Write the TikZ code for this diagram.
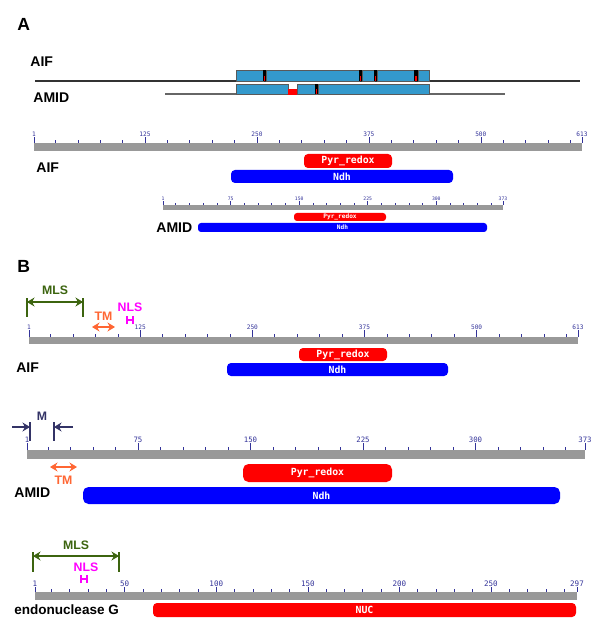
\documentclass[tikz,border=0pt]{standalone}
\usepackage{fontspec}
\setmainfont{Liberation Sans}
\setmonofont{DejaVu Sans Mono}
\usepackage{tikz}
\usetikzlibrary{arrows.meta}

\definecolor{alignblue}{RGB}{51,153,204}
\definecolor{domred}{RGB}{255,0,0}
\definecolor{domblue}{RGB}{0,0,255}
\definecolor{rulergray}{RGB}{153,153,153}
\definecolor{ticknavy}{RGB}{51,51,153}
\definecolor{mlsgreen}{RGB}{60,100,15}
\definecolor{tmorange}{RGB}{255,102,51}
\definecolor{nlsmagenta}{RGB}{255,0,255}
\definecolor{mnavy}{RGB}{51,51,102}

% #1 x0, #2 x1, #3 bar top, #4 bar bottom, #5 length, #6 minor ticks, #7 labelled ticks, #8/#9 tick lengths
\newcommand{\seqruler}[9]{%
  \fill[rulergray] (#1,#3) rectangle (#2,#4);
  \foreach \v in {#6} {
    \pgfmathsetmacro{\tickx}{#1+(\v-1)/(#5-1)*(#2-#1)}
    \draw[rulertick] (\tickx,#3) -- (\tickx,#3-#8);
  }
  \foreach \v in {1,#7,#5} {
    \pgfmathsetmacro{\tickx}{#1+(\v-1)/(#5-1)*(#2-#1)}
    \draw[rulertick] (\tickx,#3) -- (\tickx,#3-#9);
    \node[rulerno] at (\tickx,#3-#9) {\v};
  }
}

\begin{document}
\begin{tikzpicture}[
    x=0.02cm, y=-0.02cm,
    panel/.style={font=\fontsize{10}{12}\selectfont\bfseries, anchor=west, inner sep=0pt},
    protname/.style={font=\fontsize{8}{10}\selectfont\bfseries, anchor=west, inner sep=0pt},
    seg/.style={fill=alignblue, draw=black!65, line width=0.3pt},
    track/.style={line width=0.8pt, black!80},
    dom/.style={rounded corners=0.8mm, inner sep=0pt, text=white, font=\ttfamily\bfseries\fontsize{5.6}{6}\selectfont},
    dombox/.style 2 args={minimum width=#1*0.02cm, minimum height=#2*0.02cm},
    pyr/.style={dom, fill=domred},
    ndh/.style={dom, fill=domblue},
    smalldom/.style={rounded corners=0.6mm, font=\ttfamily\bfseries\fontsize{3.5}{4}\selectfont},
    rulertick/.style={ticknavy, line width=0.35pt},
    rulerno/.style={text=ticknavy, font=\ttfamily\fontsize{3.5}{4}\selectfont, anchor=south, inner sep=0.3pt},
    spanarrow/.style={line width=1pt, {Stealth[length=1.5mm,width=1.8mm]}-{Stealth[length=1.5mm,width=1.8mm]}},
    endbar/.style={line width=1pt},
    annot/.style={font=\fontsize{7}{8}\selectfont\bfseries, inner sep=0pt}
]
\useasboundingbox (0,0) rectangle (600,634);

% Panel A: alignment
\node[panel] (labA) at (17,24) {A};
\node[protname] (aifA) at (30,62) {AIF};
\node[protname] (amidA) at (33,98) {AMID};
\draw[track] (35,81) -- (580,81);
\draw[track, black!60, line width=1.1pt] (165,94) -- (505,94);
\foreach \a/\b in {236/263,266/359,362/374,377/414,418/429}
  \filldraw[seg] (\a,70) rectangle (\b,81);
\foreach \a/\b in {263/266,359/362,374/377,414/418} {
  \fill[black] (\a,70) rectangle (\b,81);
  \fill[domred] (\a+0.6,76) rectangle (\b-0.6,81);
}
\foreach \a/\b in {236/288,297/315,318/429}
  \filldraw[seg] (\a,84) rectangle (\b,94);
\fill[black] (315,84) rectangle (318,94);
\fill[domred] (315.6,89) rectangle (317.4,94);
\fill[domred] (288,89) rectangle (297,95);

% Panel A: domains
\seqruler{34}{582}{143}{151}{613}{25,50,...,600}{125,250,375,500}{3}{6}
\node[pyr, dombox={88}{14}] (pyrAifA) at (348,161) {Pyr\_redox};
\node[ndh, dombox={222}{13}] (ndhAifA) at (342,176.5) {Ndh};
\node[protname] (aifA2) at (36,168) {AIF};

\begin{scope}[rulerno/.append style={font=\ttfamily\fontsize{2.7}{3}\selectfont}]
\seqruler{163}{503}{205}{210}{373}{15,30,...,360}{75,150,225,300}{2}{4}
\end{scope}
\node[pyr, smalldom, dombox={92}{8}] (pyrAmidA) at (340,217) {Pyr\_redox};
\node[ndh, smalldom, dombox={289}{9}] (ndhAmidA) at (342.5,227.5) {Ndh};
\node[protname] (amidA2) at (156,228) {AMID};

% Panel B: AIF
\node[panel] (labB) at (17,266) {B};
\seqruler{29}{578}{337}{344}{613}{25,50,...,600}{125,250,375,500}{3}{7}
\coordinate (mlsAa) at (27,302);
\coordinate (mlsAb) at (83,302);
\draw[endbar, mlsgreen] (mlsAa) ++(0,-4) -- ++(0,19);
\draw[endbar, mlsgreen] (mlsAb) ++(0,-4) -- ++(0,19);
\draw[spanarrow, mlsgreen] (mlsAa) -- node[annot, above=3.5pt, text=mlsgreen] (mlsA) {MLS} (mlsAb);
\coordinate (tmAa) at (92,327);
\coordinate (tmAb) at (115,327);
\draw[spanarrow, tmorange] (tmAa) -- node[annot, above=3.4pt, text=tmorange] (tmA) {TM} (tmAb);
\coordinate (nlsAa) at (126,320);
\coordinate (nlsAb) at (134,320);
\draw[endbar, nlsmagenta, {Bar[width=1.7mm]}-{Bar[width=1.7mm]}] (nlsAa) -- node[annot, above=4pt, text=nlsmagenta] (nlsA) {NLS} (nlsAb);
\node[pyr, dombox={88}{13}] (pyrAifB) at (343,354.5) {Pyr\_redox};
\node[ndh, dombox={221}{13}] (ndhAifB) at (337.5,369.5) {Ndh};
\node[protname] (aifB) at (16,368) {AIF};

% Panel B: AMID
\begin{scope}[rulerno/.append style={font=\ttfamily\fontsize{4.2}{5}\selectfont}]
\seqruler{27}{585}{450}{459}{373}{15,30,...,360}{75,150,225,300}{3.5}{7}
\end{scope}
\coordinate (mAo) at (12,427);
\coordinate (mAa) at (30,427);
\coordinate (mAb) at (54,427);
\coordinate (mAp) at (73,427);
\draw[endbar, mnavy] (mAa) ++(0,-5) -- ++(0,19);
\draw[endbar, mnavy] (mAb) ++(0,-5) -- ++(0,19);
\draw[endbar, mnavy, -{Stealth[length=1.5mm,width=1.8mm]}] (mAo) -- (mAa);
\draw[endbar, mnavy, -{Stealth[length=1.5mm,width=1.8mm]}] (mAp) -- (mAb);
\path (mAa) -- node[annot, above=3.4pt, text=mnavy] (mA) {M} (mAb);
\coordinate (tmBa) at (50,467);
\coordinate (tmBb) at (77,467);
\draw[spanarrow, tmorange] (tmBa) -- node[annot, below=4.5pt, text=tmorange] (tmB) {TM} (tmBb);
\node[pyr, dombox={149}{18}, rounded corners=1.1mm] (pyrAmidB) at (317.5,473) {Pyr\_redox};
\node[ndh, dombox={477}{17}, rounded corners=1.1mm] (ndhAmidB) at (321.5,495.5) {Ndh};
\node[protname] (amidB) at (14,493) {AMID};

% Panel B: endonuclease G
\begin{scope}[rulerno/.append style={font=\ttfamily\fontsize{4.3}{5}\selectfont}]
\seqruler{35}{577}{592}{600}{297}{10,20,...,290}{50,100,150,200,250}{3}{5}
\end{scope}
\coordinate (mlsGa) at (33,556);
\coordinate (mlsGb) at (119,556);
\draw[endbar, mlsgreen] (mlsGa) ++(0,-4) -- ++(0,20);
\draw[endbar, mlsgreen] (mlsGb) ++(0,-4) -- ++(0,20);
\draw[spanarrow, mlsgreen] (mlsGa) -- node[annot, above=3.4pt, text=mlsgreen] (mlsG) {MLS} (mlsGb);
\coordinate (nlsGa) at (80,579);
\coordinate (nlsGb) at (88,579);
\draw[endbar, nlsmagenta, {Bar[width=1.7mm]}-{Bar[width=1.7mm]}] (nlsGa) -- (nlsGb);
\node[annot, text=nlsmagenta] (nlsG) at (86,567) {NLS};
\node[pyr, dombox={423}{14}] (nucG) at (364.5,610) {NUC};
\node[protname, font=\fontsize{7.7}{9}\selectfont\bfseries] (endoG) at (14,610) {endonuclease G};

\end{tikzpicture}
\end{document}
